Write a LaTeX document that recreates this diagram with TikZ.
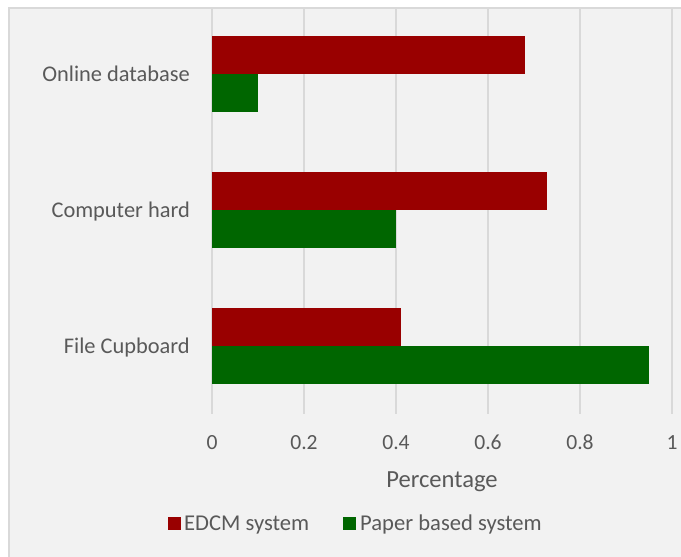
\documentclass[tikz,border=0pt]{standalone}
\usepackage{fontspec}
\setmainfont{Carlito}
\definecolor{chartbg}{HTML}{F2F2F2}
\definecolor{framegray}{HTML}{D9D9D9}
\definecolor{gridgray}{HTML}{D9D9D9}
\definecolor{labelgray}{HTML}{595959}
\definecolor{edcmred}{HTML}{990000}
\definecolor{papergreen}{HTML}{006600}
\tikzset{
  gridline/.style={draw=gridgray, line width=1.3pt},
  edcmbar/.style={fill=edcmred},
  paperbar/.style={fill=papergreen},
  catlabel/.style={anchor=base east, inner sep=0pt, text=labelgray, font=\fontsize{22.4}{27}\selectfont},
  ticklabel/.style={anchor=base, inner sep=0pt, text=labelgray, font=\fontsize{21.6}{26}\selectfont},
  titlelabel/.style={anchor=base, inner sep=0pt, text=labelgray, font=\fontsize{24.6}{29}\selectfont},
  legendlabel/.style={anchor=base west, inner sep=0pt, text=labelgray, font=\fontsize{22.6}{27}\selectfont},
}
\begin{document}
\begin{tikzpicture}[x=1pt, y=-1pt]
  \useasboundingbox (0,0) rectangle (681,557);
  \fill[white] (0,0) rectangle (681,557);
  % chart area with its frame (right and bottom edges lie outside the page)
  \fill[chartbg] (9,8) rectangle (700,580);
  \draw[framegray, line width=1.5pt] (9,580) -- (9,8) -- (700,8);

  % vertical gridlines every 0.2 (92 units per step)
  \foreach \i in {0,...,5} {
    \draw[gridline] ({212+92*\i},8) -- ({212+92*\i},414);
  }

  % bars: 460 units = value 1
  % Online database
  \fill[edcmbar]  (212,36)  rectangle ({212+460*0.68},74);
  \fill[paperbar] (212,74)  rectangle ({212+460*0.10},112);
  % Computer hard
  \fill[edcmbar]  (212,172) rectangle ({212+460*0.728},210);
  \fill[paperbar] (212,210) rectangle ({212+460*0.40},248);
  % File Cupboard
  \fill[edcmbar]  (212,308) rectangle ({212+460*0.41},346);
  \fill[paperbar] (212,346) rectangle ({212+460*0.95},384);

  % category labels
  \node[catlabel] (catonline)   at (190,81)  {Online database};
  \node[catlabel] (catcomputer) at (190,217) {Computer hard};
  \node[catlabel] (catfile)     at (190,353) {File Cupboard};

  % value axis tick labels
  \node[ticklabel] (tick0) at (212,449) {0};
  \node[ticklabel] (tick1) at (304,449) {0.2};
  \node[ticklabel] (tick2) at (396,449) {0.4};
  \node[ticklabel] (tick3) at (488,449) {0.6};
  \node[ticklabel] (tick4) at (580,449) {0.8};
  \node[ticklabel] (tick5) at (672,449) {1};

  % axis title
  \node[titlelabel] (axistitle) at (442,487) {Percentage};

  % legend
  \fill[edcmred]    (168,517) rectangle (181,530);
  \node[legendlabel] (legedcm) at (184,530) {EDCM system};
  \fill[papergreen] (343,517) rectangle (356,530);
  \node[legendlabel] (legpaper) at (360,530) {Paper based system};
\end{tikzpicture}
\end{document}
